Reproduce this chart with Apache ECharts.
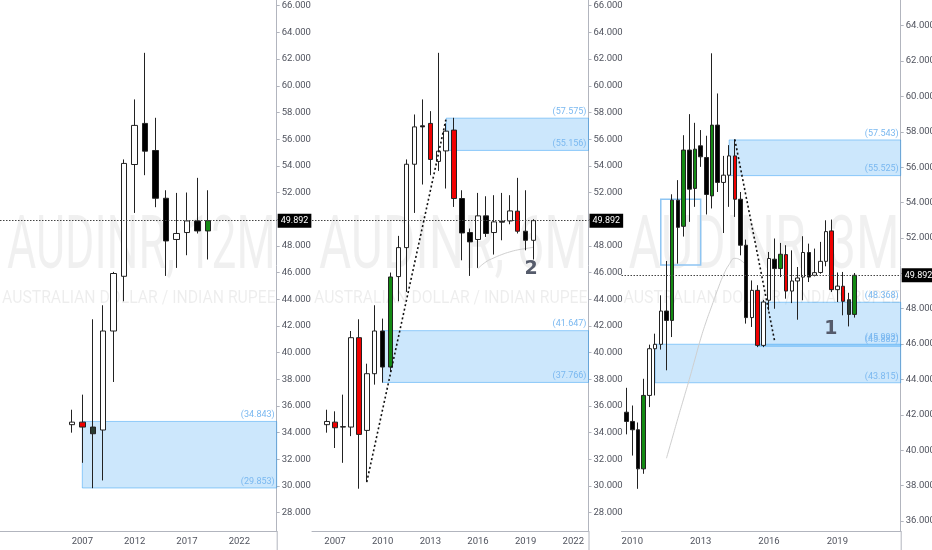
<!DOCTYPE html>
<html>
<head>
<meta charset="utf-8">
<title>AUDINR 12M / 6M / 3M</title>
<style>
    html, body { margin: 0; padding: 0; background: #fff; }
    #chart { width: 932px; height: 550px; }
</style>
<script src="https://cdn.jsdelivr.net/npm/echarts@6/dist/echarts.min.js"></script>
</head>
<body>
<div id="chart"></div>
<script>
// ---- data: [open, close, low, high] ----
var lastPrice = 49.892;

// AUDINR, 12M
var p1Years = [2006, 2007, 2008, 2009, 2010, 2011, 2012, 2013, 2014, 2015, 2016, 2017, 2018, 2019];
var p1Ohlc = [
    [34.60, 34.79, 34.00, 35.72],
    [34.79, 34.42, 31.74, 36.85],
    [34.42, 33.92, 29.84, 42.50],
    [34.20, 41.62, 30.42, 43.55],
    [41.62, 45.93, 37.80, 46.05],
    [45.72, 54.18, 43.85, 54.48],
    [54.10, 57.03, 50.47, 58.98],
    [57.18, 55.10, 53.30, 62.47],
    [55.15, 51.57, 50.90, 57.60],
    [51.57, 48.37, 45.75, 52.17],
    [48.48, 48.93, 46.35, 51.97],
    [49.00, 49.87, 47.30, 52.00],
    [49.87, 49.12, 48.93, 53.10],
    [49.12, 49.892, 46.98, 52.17]
];
var p1Tint = ['', 'r', 'd', '', '', '', '', '', '', '', '', '', '', 'g'];
var p1Zones = [[2007, 34.843, 29.853]];
var p1PriceTicks = [28, 30, 32, 34, 36, 38, 40, 42, 44, 46, 48, 50, 52, 54, 56, 58, 60, 62, 64, 66];
var p1YearTicks = [2007, 2012, 2017, 2022];

// AUDINR, 6M
var p2Times = [2006.5, 2007, 2007.5, 2008, 2008.5, 2009, 2009.5, 2010, 2010.5, 2011, 2011.5, 2012, 2012.5,
    2013, 2013.5, 2014, 2014.5, 2015, 2015.5, 2016, 2016.5, 2017, 2017.5, 2018, 2018.5, 2019, 2019.5];
var p2Ohlc = [
    [34.60, 34.84, 34.00, 35.72],
    [34.79, 34.37, 32.85, 35.60],
    [34.45, 34.42, 31.74, 36.85],
    [34.42, 41.12, 33.74, 41.62],
    [41.12, 33.87, 29.80, 42.50],
    [34.17, 38.42, 30.29, 39.17],
    [38.42, 41.62, 37.60, 43.55],
    [41.62, 38.92, 37.75, 42.55],
    [38.92, 45.67, 38.54, 46.00],
    [45.70, 47.87, 43.85, 48.75],
    [47.87, 54.12, 44.55, 54.48],
    [54.12, 56.92, 50.47, 57.85],
    [57.00, 56.92, 52.60, 58.98],
    [57.18, 54.48, 53.30, 58.10],
    [54.33, 55.10, 53.62, 62.47],
    [55.12, 56.60, 52.30, 57.18],
    [56.68, 51.55, 50.92, 57.60],
    [51.55, 48.97, 46.92, 52.17],
    [49.00, 48.30, 45.75, 49.30],
    [48.48, 50.25, 46.35, 51.97],
    [50.25, 48.93, 48.67, 51.72],
    [49.00, 49.80, 47.35, 51.80],
    [49.85, 49.78, 48.42, 51.97],
    [49.87, 50.62, 49.62, 51.80],
    [50.60, 49.10, 48.93, 53.10],
    [49.10, 48.42, 47.67, 52.17],
    [48.42, 49.892, 46.98, 50.00]
];
var p2Tint = ['', 'r', '', '', 'r', '', '', '', 'g', '', '', '', '', 'r', '', '', 'r', '', '', '', '', '', '', '', 'r', '', ''];
var p2Zones = [[2014, 57.575, 55.156], [2010, 41.647, 37.766]];
var p2Trend = [[2009, 30.30], [2014, 57.575]];
var p2MaTimes = [2016, 2016.5, 2017, 2017.5, 2018, 2018.5, 2019, 2019.5];
var p2MaValues = [46.30, 46.80, 47.10, 47.35, 47.55, 47.70, 47.80, 47.90];
var p2Notes = [[2019.34, 46.27, '2']];
var p2YearTicks = [2007, 2010, 2013, 2016, 2019, 2022];

// AUDINR, 3M
var p3Times = [2009.75, 2010, 2010.25, 2010.5, 2010.75, 2011, 2011.25, 2011.5, 2011.75, 2012, 2012.25,
    2012.5, 2012.75, 2013, 2013.25, 2013.5, 2013.75, 2014, 2014.25, 2014.5, 2014.75, 2015, 2015.25,
    2015.5, 2015.75, 2016, 2016.25, 2016.5, 2016.75, 2017, 2017.25, 2017.5, 2017.75, 2018, 2018.25,
    2018.5, 2018.75, 2019, 2019.25, 2019.5, 2019.75];
var p3Ohlc = [
    [42.15, 41.63, 40.90, 43.53],
    [41.63, 41.16, 39.70, 42.53],
    [41.16, 38.95, 37.82, 41.57],
    [38.95, 43.10, 38.67, 44.04],
    [43.10, 45.74, 42.44, 45.97],
    [45.74, 45.99, 43.10, 46.59],
    [45.99, 47.87, 45.69, 48.76],
    [47.87, 47.34, 44.52, 50.70],
    [47.34, 54.14, 46.40, 54.47],
    [54.14, 52.60, 50.55, 55.27],
    [52.66, 56.97, 52.08, 57.81],
    [56.97, 54.76, 52.91, 59.00],
    [54.80, 57.02, 53.76, 58.51],
    [57.21, 56.59, 56.02, 58.10],
    [56.55, 54.46, 53.33, 57.78],
    [54.38, 58.38, 53.67, 62.44],
    [58.38, 55.14, 54.60, 60.17],
    [55.14, 55.55, 52.28, 56.64],
    [55.55, 56.64, 53.76, 57.25],
    [56.64, 54.19, 53.19, 57.57],
    [54.19, 51.59, 51.02, 54.60],
    [51.59, 47.50, 47.16, 51.91],
    [47.50, 49.04, 46.97, 49.60],
    [49.04, 45.93, 45.83, 49.33],
    [45.93, 48.38, 45.83, 48.50],
    [48.48, 50.84, 47.91, 51.21],
    [50.80, 50.27, 48.00, 51.97],
    [50.27, 51.08, 49.79, 51.72],
    [51.06, 49.00, 48.57, 51.59],
    [49.00, 49.57, 48.32, 51.30],
    [49.57, 49.74, 47.38, 50.36],
    [49.79, 51.18, 48.48, 52.10],
    [51.18, 49.79, 49.51, 51.68],
    [49.89, 50.04, 49.83, 51.40],
    [50.05, 50.68, 49.98, 51.78],
    [50.68, 52.36, 50.40, 53.00],
    [52.40, 49.08, 48.95, 53.04],
    [49.08, 49.28, 48.38, 50.05],
    [49.27, 48.42, 47.63, 50.08],
    [48.51, 47.68, 47.00, 48.90],
    [47.68, 49.892, 47.50, 50.02]
];
var p3Tint = ['', '', '', 'g', '', '', '', '', 'g', '', 'g', '', 'g', '', '', 'g', '', '', '', 'r', '',
    '', '', 'r', '', '', '', 'g', 'r', '', '', '', '', '', '', '', 'r', '', 'r', 'd', 'g'];
var p3Zones = [[2014.25, 57.543, 55.525], [2015.5, 48.368, 45.882], [2011, 45.993, 43.815]];
var p3Frame = [[2011.25, 54.19], [2013, 50.47]];
var p3Trend = [[2014.5, 57.57], [2016.25, 46.15]];
var p3MaTimes = [2011.5, 2011.75, 2012, 2012.25, 2012.5, 2012.75, 2013, 2013.25, 2013.5, 2013.75,
    2014, 2014.25, 2014.5, 2014.75, 2015];
var p3MaValues = [39.55, 40.67, 41.80, 42.90, 44.00, 45.15, 46.30, 47.30, 48.20, 49.10,
    49.90, 50.50, 50.85, 50.75, 50.45];
var p3Notes = [[2018.71, 46.85, '1']];
var p3PriceTicks = [36, 38, 40, 42, 44, 46, 48, 50, 52, 54, 56, 58, 60, 62, 64];
var p3YearTicks = [2010, 2013, 2016, 2019];

// ---- layout and styling ----
var axisGray = '#b2b5be';
var labelGray = '#50535e';
var labelFont = "'Liberation Sans Narrow', 'Roboto', sans-serif";
var zoneBlue = '#7ab8f0';
var tintFill = { r: '#f00000', g: '#138a13', d: '#283a31' };

var panes = [
    { left: 0, right: 276.7, xMin: 1999.137, xMax: 2025.57, yMin: 26.63, yMax: 66.43, title: 'AUDINR, 12M' },
    { left: 312, right: 588.5, xMin: 2005.552, xMax: 2022.957, yMin: 26.63, yMax: 66.43, title: 'AUDINR, 6M' },
    { left: 621.5, right: 900.7, xMin: 2009.526, xMax: 2021.78, yMin: 35.436, yMax: 65.453, title: 'AUDINR, 3M' }
];

function candleItems(times, ohlc, tint) {
    return times.map(function (t, i) {
        var item = { value: [t].concat(ohlc[i]) };
        var fill = tintFill[tint[i]];
        if (fill) {
            item.itemStyle = { color: fill, color0: fill };
        }
        return item;
    });
}

function pairs(xs, ys) {
    return xs.map(function (x, i) { return [x, ys[i]]; });
}

function zoneAreas(zones, xMax) {
    return zones.map(function (z) {
        return [{ coord: [z[0], z[1]] }, { coord: [xMax, z[2]] }];
    });
}

function zoneLabels(zones, xMax) {
    var out = [];
    zones.forEach(function (z) {
        [z[1], z[2]].forEach(function (v) {
            out.push([{
                coord: [z[0], v],
                lineStyle: { width: 0, color: 'rgba(0,0,0,0)' },
                label: {
                    show: true, position: 'insideEndTop', distance: 2,
                    formatter: '(' + v.toFixed(3) + ')',
                    color: zoneBlue, fontSize: 9, fontFamily: labelFont
                }
            }, { coord: [xMax, v] }]);
        });
    });
    return out;
}

function priceLine() {
    return {
        yAxis: lastPrice,
        lineStyle: { type: [1.5, 1.5], color: '#444', width: 1 },
        label: {
            show: true, position: 'end', distance: 1,
            formatter: lastPrice.toFixed(3),
            color: '#fff', backgroundColor: '#000', padding: [3, 3, 2, 3],
            fontSize: 9, fontFamily: labelFont
        }
    };
}

function trendLine(trend) {
    return [{
        coord: trend[0],
        lineStyle: { type: [2, 2.5], color: '#111', width: 1.6 }
    }, { coord: trend[1] }];
}

function notes(list) {
    return list.map(function (n) {
        return { coord: [n[0], n[1]], value: n[2], label: { formatter: n[2] } };
    });
}

function candleSeries(idx, times, ohlc, tint, zones, extra) {
    var pane = panes[idx];
    var lines = [priceLine()].concat(zoneLabels(zones, pane.xMax));
    if (extra.trend) {
        lines.push(trendLine(extra.trend));
    }
    var areas = zoneAreas(zones, pane.xMax);
    if (extra.frame) {
        areas.push([{
            coord: extra.frame[0],
            itemStyle: { color: 'rgba(0,0,0,0)', borderColor: '#8ec5f3', borderWidth: 1.5 }
        }, { coord: extra.frame[1] }]);
    }
    var series = {
        type: 'candlestick',
        xAxisIndex: idx,
        yAxisIndex: idx,
        barWidth: extra.barWidth,
        z: 3,
        itemStyle: {
            color: '#ffffff', color0: '#000000',
            borderColor: '#222', borderColor0: '#222', borderWidth: 1
        },
        data: candleItems(times, ohlc, tint),
        markArea: {
            silent: true,
            itemStyle: { color: 'rgba(33,150,243,0.23)', borderColor: 'rgba(33,150,243,0.45)', borderWidth: 1 },
            data: areas
        },
        markLine: {
            silent: true,
            symbol: ['none', 'none'],
            label: { show: false },
            data: lines
        }
    };
    if (extra.notes) {
        series.markPoint = {
            silent: true,
            symbol: 'rect',
            symbolSize: 1,
            itemStyle: { color: 'rgba(0,0,0,0)' },
            label: {
                show: true, position: 'inside',
                color: '#555b6b', fontSize: 19, fontWeight: 'bold', fontFamily: 'DejaVu Sans'
            },
            data: notes(extra.notes)
        };
    }
    return series;
}

function maSeries(idx, times, values) {
    return {
        type: 'line',
        xAxisIndex: idx,
        yAxisIndex: idx,
        silent: true,
        symbol: 'none',
        smooth: true,
        z: 1,
        lineStyle: { color: '#cfcfcf', width: 1 },
        data: pairs(times, values)
    };
}

function xAxis(idx, ticks) {
    var pane = panes[idx];
    return {
        type: 'value', gridIndex: idx, min: pane.xMin, max: pane.xMax,
        axisLine: { show: true, onZero: false, lineStyle: { color: axisGray } },
        axisTick: { show: false },
        splitLine: { show: false },
        axisLabel: {
            customValues: ticks, margin: 6,
            formatter: function (v) { return String(Math.round(v)); },
            color: labelGray, fontSize: 9.5, fontFamily: labelFont
        }
    };
}

function yAxis(idx, ticks) {
    var pane = panes[idx];
    return {
        type: 'value', gridIndex: idx, position: 'right', min: pane.yMin, max: pane.yMax,
        axisLine: { show: true, onZero: false, lineStyle: { color: axisGray } },
        axisTick: { show: true, length: 3, customValues: ticks, lineStyle: { color: axisGray } },
        splitLine: { show: false },
        axisLabel: {
            customValues: ticks, margin: 5,
            formatter: function (v) { return v.toFixed(3); },
            color: labelGray, fontSize: 9.5, fontFamily: labelFont
        }
    };
}

// watermark text squeezed to the pane width, like the chart's symbol watermark
function textWidth(text, font) {
    var ctx = document.createElement('canvas').getContext('2d');
    ctx.font = font;
    return ctx.measureText(text).width;
}

function watermark(pane) {
    var bigFont = '74px Roboto';
    var smallFont = '19px Roboto';
    var sub = 'AUSTRALIAN DOLLAR / INDIAN RUPEE';
    var w = pane.right - pane.left;
    return [{
        type: 'text', silent: true, z: 0,
        x: pane.left + 7, y: 249,
        scaleX: (w - 8) / textWidth(pane.title, bigFont),
        style: { text: pane.title, font: bigFont, fill: 'rgba(0,0,0,0.06)', verticalAlign: 'middle' }
    }, {
        type: 'text', silent: true, z: 0,
        x: pane.left + 2, y: 298,
        scaleX: (w - 3) / textWidth(sub, smallFont),
        style: { text: sub, font: smallFont, fill: 'rgba(0,0,0,0.07)', verticalAlign: 'middle' }
    }, {
        // price scale border runs on through the time-scale row
        type: 'line', silent: true, z: 0,
        shape: { x1: pane.right + 0.5, y1: 531, x2: pane.right + 0.5, y2: 550 },
        style: { stroke: axisGray, lineWidth: 1 }
    }];
}

var chart = echarts.init(document.getElementById('chart'));

chart.setOption({
    animation: false,
    backgroundColor: '#ffffff',
    grid: panes.map(function (p) {
        return { left: p.left, top: 0, width: p.right - p.left, height: 531, containLabel: false, outerBoundsMode: 'none' };
    }),
    graphic: [].concat(watermark(panes[0]), watermark(panes[1]), watermark(panes[2])),
    xAxis: [xAxis(0, p1YearTicks), xAxis(1, p2YearTicks), xAxis(2, p3YearTicks)],
    yAxis: [yAxis(0, p1PriceTicks), yAxis(1, p1PriceTicks), yAxis(2, p3PriceTicks)],
    series: [
        candleSeries(0, p1Years, p1Ohlc, p1Tint, p1Zones, { barWidth: 6 }),
        maSeries(1, p2MaTimes, p2MaValues),
        candleSeries(1, p2Times, p2Ohlc, p2Tint, p2Zones, { barWidth: 5, trend: p2Trend, notes: p2Notes }),
        maSeries(2, p3MaTimes, p3MaValues),
        candleSeries(2, p3Times, p3Ohlc, p3Tint, p3Zones, { barWidth: 4, trend: p3Trend, frame: p3Frame, notes: p3Notes })
    ]
});
</script>
</body>
</html>
